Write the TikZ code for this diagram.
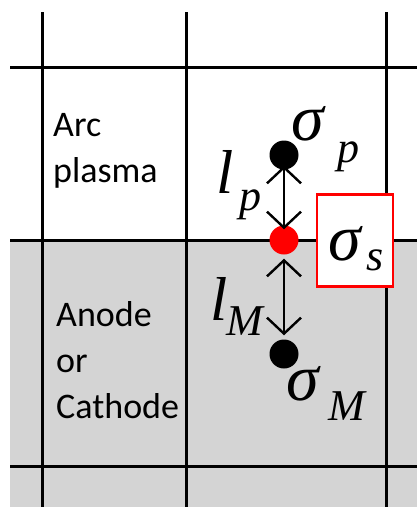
\documentclass[tikz,border=0pt]{standalone}
\usepackage{fontspec}
\setmainfont{Carlito}
\newfontfamily\tms{Liberation Serif}
\usetikzlibrary{arrows.meta}
\tikzset{
  grid/.style={line width=3pt, black},
  lbl/.style={font=\fontsize{36}{46}\selectfont, align=left, anchor=north west, inner sep=0pt},
  dotb/.style={circle, fill=black, minimum size=29pt, inner sep=0pt},
  dotr/.style={circle, fill=red, minimum size=29pt, inner sep=0pt},
  barbtip/.tip={Straight Barb[length=16pt,width=34pt,line width=2.4pt]},
  dblarrow/.style={line width=2.2pt, barbtip-barbtip},
  mth/.style={inner sep=0pt, anchor=base west}
}
\newcommand{\mybigsym}{\tms\itshape\fontsize{66}{66}\selectfont}
\newcommand{\mybigl}{\tms\itshape\fontsize{62}{62}\selectfont}
\newcommand{\mysubsym}{\tms\itshape\fontsize{44}{44}\selectfont}
\begin{document}
\begin{tikzpicture}[x=1pt,y=-1pt]
\useasboundingbox (0,0) rectangle (417,507);
% shaded region
\fill[black!17] (10,240) rectangle (417,507);
% grid lines
\draw[grid] (42,12) -- (42,507);
\draw[grid] (186,12) -- (186,507);
\draw[grid] (386,12) -- (386,507);
\draw[grid] (10,67) -- (417,67);
\draw[grid] (10,240) -- (417,240);
\draw[grid] (10,466) -- (417,466);
% region labels
\node[lbl] (arc) at (53,113) {Arc\\plasma};
\node[lbl] (anode) at (56,301) {Anode\\or\\Cathode};
% red box
\node[draw=red, line width=2.4pt, fill=white, minimum width=76pt, minimum height=92pt, inner sep=0pt] (box) at (355,240.5) {};
% dots
\node[dotb] (p) at (284,155) {};
\node[dotr] (s) at (284,240) {};
\node[dotb] (m) at (284,354) {};
% arrows
\draw[dblarrow] ([yshift=4pt]p.south) -- ([yshift=-4pt]s.north);
\draw[dblarrow] ([yshift=-4pt]s.south) -- ([yshift=4pt]m.north);
% labels
\node[mth] (sigp) at (291,140) {\mybigsym σ};
\node[mth] (sigpsub) at (337,162) {\mysubsym p};
\node[mth] (lp) at (216,193) {\mybigl l};
\node[mth] (lpsub) at (239,210) {\mysubsym p};
\node[mth] (sigs) at (328,260) {\mybigsym σ};
\node[mth] (sigssub) at (366,270) {\mysubsym s};
\node[mth] (lm) at (210,320) {\mybigl l};
\node[mth] (lmsub) at (226,335) {\mysubsym M};
\node[mth] (sigm) at (286,400) {\mybigsym σ};
\node[mth] (sigmsub) at (328,420) {\mysubsym M};
\end{tikzpicture}
\end{document}
